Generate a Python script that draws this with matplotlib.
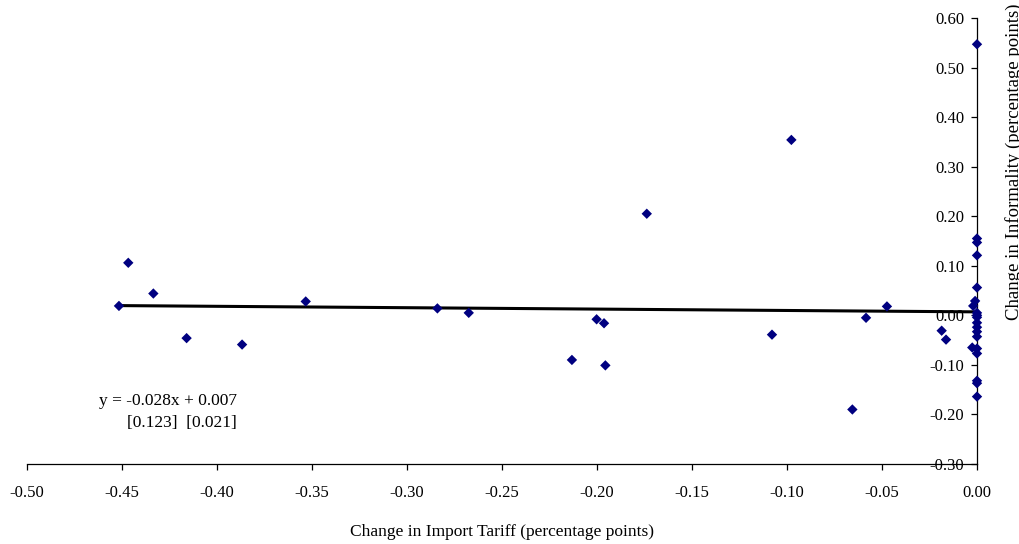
import matplotlib
matplotlib.use("Agg")
import matplotlib.pyplot as plt
import numpy as np

plt.rcParams['font.family'] = ['Liberation Serif', 'DejaVu Serif']

tariff_change = [-0.4516, -0.4467, -0.4335, -0.4160, -0.3868, -0.3533,
                 -0.2840, -0.2675, -0.1738, -0.2002, -0.1963, -0.2132,
                 -0.1956, -0.0977, -0.1079, -0.0656, -0.0584, -0.0474,
                 -0.0186, -0.0163, -0.0025, -0.0020, -0.0010,
                 0.0, 0.0, 0.0, 0.0, 0.0, 0.0, 0.0, 0.0, 0.0, 0.0,
                 0.0, 0.0, 0.0, 0.0, 0.0, 0.0, 0.0]
informality_change = [0.019, 0.106, 0.044, -0.046, -0.059, 0.028,
                      0.014, 0.005, 0.205, -0.008, -0.016, -0.090,
                      -0.101, 0.354, -0.039, -0.190, -0.005, 0.018,
                      -0.031, -0.049, -0.065, 0.019, 0.029,
                      0.547, 0.155, 0.147, 0.121, 0.056, 0.005, -0.004,
                      -0.015, -0.024, -0.033, -0.043, -0.067, -0.077,
                      -0.132, -0.137, -0.164, 0.0]

slope = -0.028
intercept = 0.007
fit_x = [-0.451, 0.0]
eq_line1 = "y = -0.028x + 0.007"
eq_line2 = "[0.123]  [0.021]"

x_ticks = [-0.50, -0.45, -0.40, -0.35, -0.30, -0.25, -0.20, -0.15, -0.10, -0.05, 0.00]
y_ticks = [-0.30, -0.20, -0.10, 0.00, 0.10, 0.20, 0.30, 0.40, 0.50, 0.60]

W, H = 1019, 544
fig = plt.figure(figsize=(W / 100, H / 100), dpi=100)
ax = fig.add_axes([27 / W, 1 - 464 / H, 950 / W, 446 / H])

ax.plot(fit_x, [slope * v + intercept for v in fit_x], color='black', lw=2.2,
        zorder=2, solid_capstyle='butt')
ax.scatter(tariff_change, informality_change, marker='D', s=28, color='#000080',
           edgecolors='none', zorder=3, clip_on=False)

ax.set_xlim(-0.5, 0.0)
ax.set_ylim(-0.30, 0.60)
ax.set_xticks(x_ticks)
ax.set_xticklabels([f"{v:.2f}" for v in x_ticks])
ax.set_yticks(y_ticks)
ax.set_yticklabels([f"{v:.2f}" for v in y_ticks])

ax.spines['right'].set_visible(False)
ax.spines['top'].set_visible(False)
ax.spines['left'].set_position(('data', 0.0))
ax.spines['bottom'].set_position(('data', -0.30))
for s in ('left', 'bottom'):
    ax.spines[s].set_linewidth(0.9)
ax.tick_params(axis='x', direction='out', length=4, width=0.9, pad=11, labelsize=12)
ax.tick_params(axis='y', direction='out', length=4, width=0.9, pad=5, labelsize=12)

ax.set_xlabel("Change in Import Tariff (percentage points)", fontsize=12.5, labelpad=17)

ax.text((99 - 27) / 950, 1 - (401 - 18) / 446, eq_line1, transform=ax.transAxes,
        ha='left', va='center', fontsize=12.5)
ax.text((237 - 27) / 950, 1 - (423 - 18) / 446, eq_line2, transform=ax.transAxes,
        ha='right', va='center', fontsize=12.5)

fig.text(1014 / W, 1 - 162 / H, "Change in Informality (percentage points)",
         rotation=90, ha='center', va='center', fontsize=13.5)

fig.savefig("out.png", dpi=100)
